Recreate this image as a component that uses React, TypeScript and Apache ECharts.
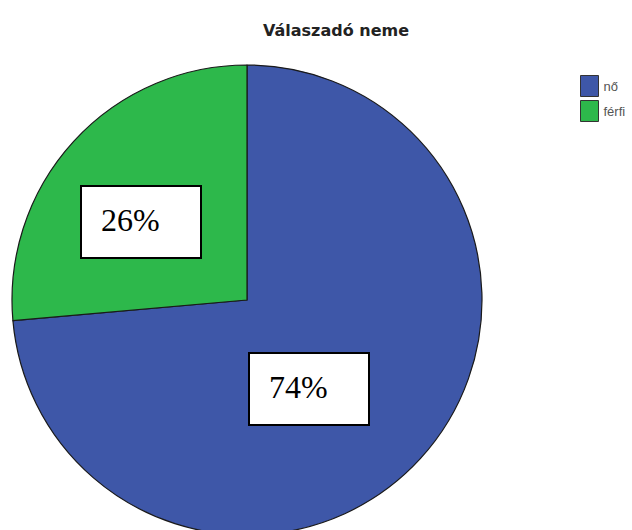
import React, { useEffect, useRef } from "react";
import * as echarts from "echarts";

const categories = ["nő", "férfi"];
const values = [73.6, 26.4];
const colors = ["#3E57A8", "#2DB84B"];
const titleText = "Válaszadó neme";

// layout (not data)
const labelBoxes = [
  { x: 248, y: 352, w: 120, h: 72 },
  { x: 80, y: 185, w: 120, h: 72 },
];

export default function App() {
  const ref = useRef<HTMLDivElement>(null);
  useEffect(() => {
    if (!ref.current) return;
    const chart = echarts.init(ref.current, null, { renderer: "svg" });
    const total = values.reduce((a, b) => a + b, 0);
    const graphics: any[] = [];
    categories.forEach((_, i) => {
      const b = labelBoxes[i];
      graphics.push({
        type: "rect",
        left: b.x,
        top: b.y,
        shape: { width: b.w, height: b.h },
        style: { fill: "#fff", stroke: "#000", lineWidth: 2 },
        z: 10,
      });
      graphics.push({
        type: "text",
        left: b.x + 21,
        top: b.y + 19,
        style: {
          text: `${Math.round((values[i] / total) * 100)}%`,
          font: "32px 'Liberation Serif', 'Times New Roman', serif",
          fill: "#000",
        },
        z: 11,
      });
    });
    chart.setOption({
      animation: false,
      backgroundColor: "#fff",
      color: colors,
      title: {
        text: titleText,
        left: 258,
        top: 17,
        textStyle: { fontSize: 16, fontWeight: "bold", color: "#222", fontFamily: "'DejaVu Sans', sans-serif" },
      },
      legend: {
        data: categories,
        orient: "vertical",
        left: 580,
        top: 75,
        padding: 0,
        itemWidth: 18,
        itemHeight: 21,
        itemGap: 3,
        icon: "rect",
        selectedMode: false,
        itemStyle: { borderColor: "#333", borderWidth: 1 },
        textStyle: { fontSize: 13, color: "#555", fontFamily: "'Liberation Sans', Arial, sans-serif" },
      },
      series: [
        {
          type: "pie",
          center: [247, 300],
          radius: 235,
          startAngle: 90,
          clockwise: true,
          label: { show: false },
          labelLine: { show: false },
          emphasis: { disabled: true },
          itemStyle: { borderColor: "#1a1a1a", borderWidth: 1.2 },
          data: categories.map((name, i) => ({ name, value: values[i] })),
        },
      ],
      graphic: graphics,
    });
    return () => chart.dispose();
  }, []);
  return <div ref={ref} style={{ position: "absolute", left: 0, top: 0, width: 632, height: 530 }} />;
}
